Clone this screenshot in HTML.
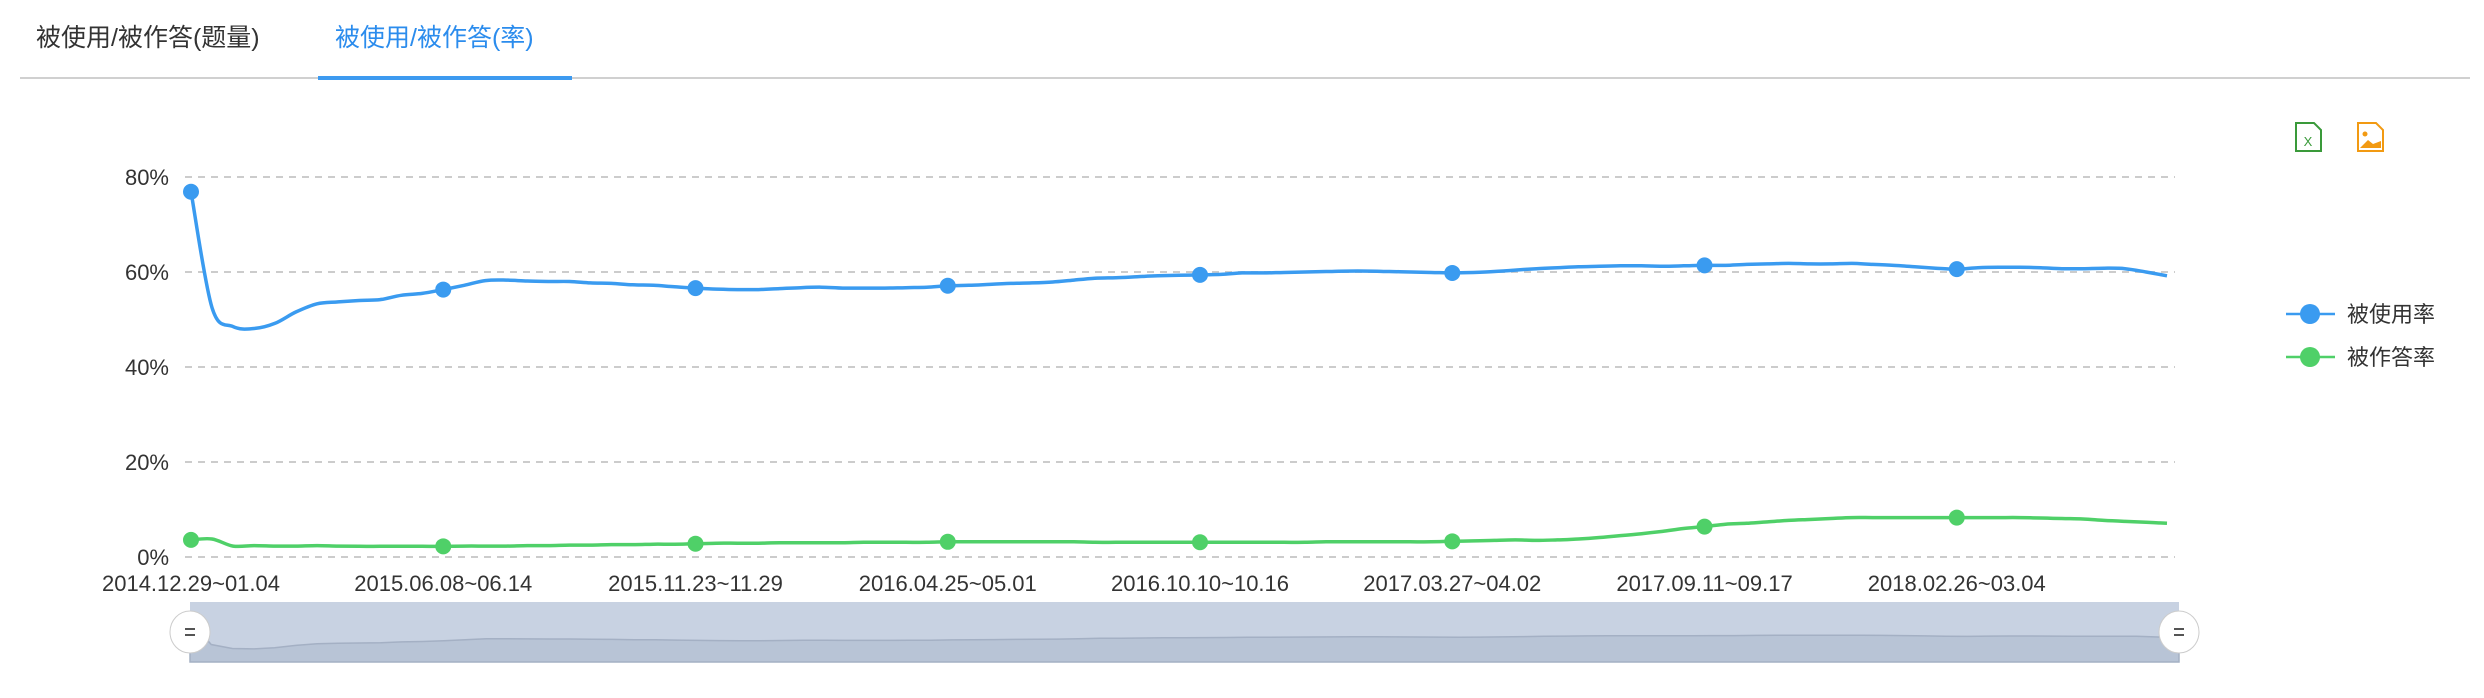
<!DOCTYPE html>
<html><head><meta charset="utf-8"><style>
body{margin:0;background:#fff;width:2484px;height:698px;overflow:hidden;font-family:"Liberation Sans","Noto Sans CJK SC",sans-serif;}
.tab{position:absolute;top:20px;font-size:25px;line-height:36px;}
</style></head><body>
<div class="tab" style="left:36px;color:#333">被使用/被作答(题量)</div>
<div class="tab" style="left:335px;color:#2b8ced">被使用/被作答(率)</div>
<div style="position:absolute;left:20px;top:77px;width:2450px;height:2px;background:#d0d0d0"></div>
<div style="position:absolute;left:318px;top:76px;width:254px;height:4px;background:#3d9af0"></div>
<svg id="chart" width="2484" height="698" style="position:absolute;left:0;top:0" font-family="Liberation Sans, Noto Sans CJK SC, sans-serif">
<g>
<path d="M2296 123 h18 l7 7 v21 h-25 z" fill="none" stroke="#3a9a3a" stroke-width="2"/>
<text x="2308" y="146" font-size="13" fill="#3a9a3a" text-anchor="middle">X</text></g>
<g>
<path d="M2358 123 h18 l7 7 v21 h-25 z" fill="none" stroke="#f29a12" stroke-width="2"/>
<circle cx="2365" cy="134" r="2.5" fill="#f29a12"/><path d="M2360 148 l8 -8 l5 4 l8 -3 v7 z" fill="#f29a12"/></g>
<g><line x1="2286" y1="314" x2="2335" y2="314" stroke="#3a9bf0" stroke-width="2.5"/><circle cx="2310" cy="314" r="10" fill="#3a9bf0"/><text x="2347" y="322" font-size="22" fill="#333">被使用率</text></g>
<g><line x1="2286" y1="357" x2="2335" y2="357" stroke="#4fd068" stroke-width="2.5"/><circle cx="2310" cy="357" r="10" fill="#4fd068"/><text x="2347" y="365" font-size="22" fill="#333">被作答率</text></g>
</svg>
<script>
const weeksLabels=["2014.12.29~01.04","2015.06.08~06.14","2015.11.23~11.29","2016.04.25~05.01","2016.10.10~10.16","2017.03.27~04.02","2017.09.11~09.17","2018.02.26~03.04"];
const yTicks=[0,20,40,60,80];
const usageRate=[76.9,52.5,48.5,48.1,49.2,51.6,53.3,53.7,54.0,54.2,55.1,55.5,56.3,57.2,58.2,58.3,58.1,58.0,58.0,57.7,57.6,57.3,57.2,56.9,56.6,56.4,56.3,56.3,56.5,56.7,56.8,56.6,56.6,56.6,56.7,56.8,57.1,57.2,57.4,57.6,57.7,57.9,58.3,58.7,58.8,59.0,59.2,59.3,59.4,59.5,59.8,59.8,59.9,60.0,60.1,60.2,60.2,60.1,60.0,59.9,59.8,59.9,60.1,60.4,60.7,60.9,61.1,61.2,61.3,61.3,61.2,61.3,61.4,61.4,61.6,61.7,61.8,61.7,61.7,61.8,61.6,61.4,61.1,60.8,60.6,60.9,61.0,61.0,60.9,60.7,60.7,60.8,60.7,60.0,59.2];
const answerRate=[3.6,3.8,2.3,2.4,2.3,2.3,2.4,2.3,2.25,2.25,2.25,2.25,2.25,2.3,2.3,2.3,2.4,2.4,2.5,2.5,2.6,2.6,2.7,2.7,2.8,2.9,2.9,2.9,3.0,3.0,3.0,3.0,3.1,3.1,3.1,3.1,3.2,3.2,3.2,3.2,3.2,3.2,3.2,3.1,3.1,3.1,3.1,3.1,3.1,3.1,3.1,3.1,3.1,3.1,3.2,3.2,3.2,3.2,3.2,3.2,3.3,3.4,3.5,3.6,3.5,3.6,3.8,4.1,4.5,4.9,5.4,6.0,6.4,6.9,7.1,7.4,7.7,7.9,8.1,8.3,8.3,8.3,8.3,8.3,8.3,8.3,8.3,8.3,8.2,8.1,8.0,7.7,7.5,7.3,7.1];
const NS='http://www.w3.org/2000/svg',svg=document.getElementById('chart');
const N=usageRate.length,X0=191,X1=2167,Y0=557,Y80=177,LABEL_STEP=12;
const xs=i=>X0+(X1-X0)*i/(N-1), ys=v=>Y0-(Y0-Y80)*v/80;
function mk(t,a){const e=document.createElementNS(NS,t);for(const k in a)e.setAttribute(k,a[k]);svg.appendChild(e);return e;}
function smooth(pts){let d='M'+pts[0][0].toFixed(1)+' '+pts[0][1].toFixed(1);
 for(let i=0;i<pts.length-1;i++){const p0=pts[Math.max(0,i-1)],p1=pts[i],p2=pts[i+1],p3=pts[Math.min(pts.length-1,i+2)];
  const c1x=p1[0]+(p2[0]-p0[0])/6,c1y=p1[1]+(p2[1]-p0[1])/6,c2x=p2[0]-(p3[0]-p1[0])/6,c2y=p2[1]-(p3[1]-p1[1])/6;
  d+=` C${c1x.toFixed(1)} ${c1y.toFixed(1)} ${c2x.toFixed(1)} ${c2y.toFixed(1)} ${p2[0].toFixed(1)} ${p2[1].toFixed(1)}`;}
 return d;}
yTicks.forEach(v=>{
 const l=mk('line',{x1:185,x2:2175,y1:ys(v),y2:ys(v),stroke:'#ccc','stroke-width':2,'stroke-dasharray':'7,6'});
 
 
 const t=mk('text',{x:169,y:ys(v)+8,'font-size':22,fill:'#333','text-anchor':'end'});t.textContent=v+'%';
 
 
});
weeksLabels.forEach((s,k)=>{
 const t=mk('text',{x:xs(k*LABEL_STEP),y:591,'font-size':22,fill:'#333','text-anchor':'middle'});t.textContent=s;
 
 
});
function series(arr,color,name){
 const d=smooth(arr.map((v,i)=>[xs(i),ys(v)]));
 const p=mk('path',{d,fill:'none',stroke:color,'stroke-width':3.5,'stroke-linejoin':'round'});
 
 
 arr.forEach((v,i)=>{if(i%LABEL_STEP)return;
  const c=mk('circle',{cx:xs(i),cy:ys(v),r:8,fill:color});
  
  
 });
}
series(usageRate,'#3a9bf0','usage-rate');
series(answerRate,'#4fd068','answer-rate');
const bg=mk('rect',{x:190,y:602,width:1989,height:60,fill:'#c8d2e2'});


const mx=i=>190+1989*i/(N-1), my=v=>Math.max(604,697-v);
const ad='M190 662 '+usageRate.map((v,i)=>'L'+mx(i).toFixed(1)+' '+my(v).toFixed(1)).join(' ')+' L2179 662 Z';
const ar=mk('path',{d:ad,fill:'#b8c4d6',stroke:'#a4b0c4','stroke-width':1.5});


[190,2179].forEach((x,k)=>{
 const h=mk('ellipse',{cx:x,cy:632,rx:20,ry:21,fill:'#fff',stroke:'#ccc','stroke-width':1});
 
 
 const g=mk('path',{d:`M${x-5} 629 h10 M${x-5} 635 h10`,stroke:'#555','stroke-width':2});
 
 
});
</script>
</body></html>
